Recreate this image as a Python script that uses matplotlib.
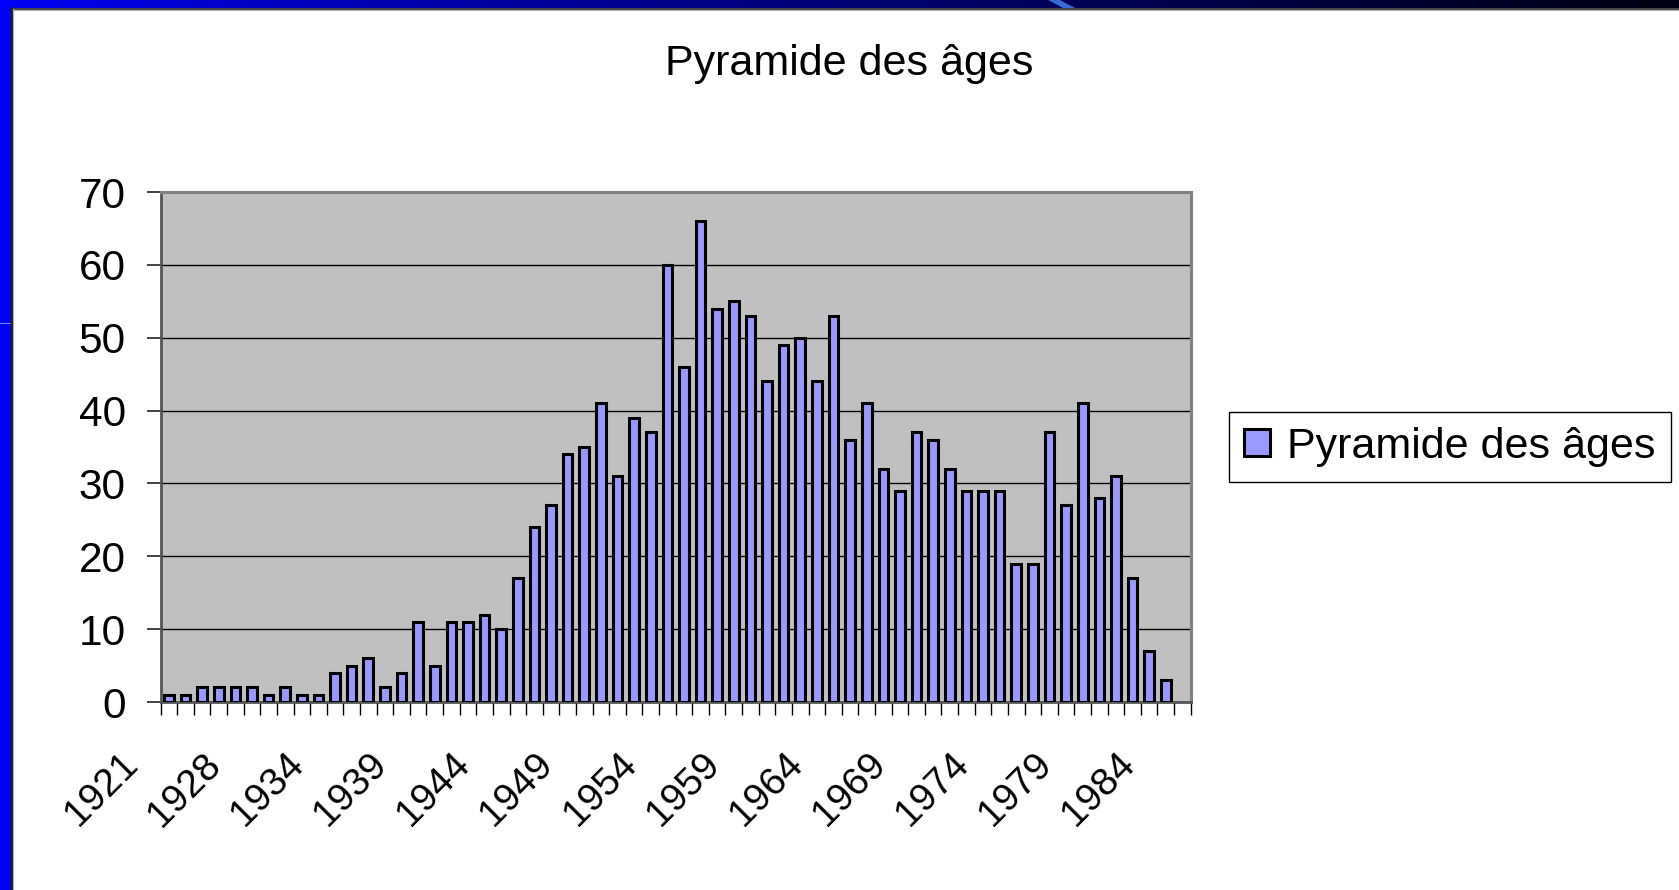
import numpy as np
import matplotlib
matplotlib.use("Agg")
import matplotlib.pyplot as plt
from matplotlib.patches import Rectangle, Polygon
from matplotlib.lines import Line2D
from matplotlib.transforms import ScaledTranslation

plt.rcParams['font.family'] = ['Liberation Sans', 'DejaVu Sans']

title = "Pyramide des âges"
series_name = "Pyramide des âges"

years = [1921, 1923, 1924, 1926, 1927, 1928, 1929, 1930, 1931, 1933,
         1934, 1935, 1936, 1937, 1938, 1939, 1940, 1941, 1942, 1943,
         1944, 1945, 1946, 1947, 1948, 1949, 1950, 1951, 1952, 1953,
         1954, 1955, 1956, 1957, 1958, 1959, 1960, 1961, 1962, 1963,
         1964, 1965, 1966, 1967, 1968, 1969, 1970, 1971, 1972, 1973,
         1974, 1975, 1976, 1977, 1978, 1979, 1980, 1981, 1982, 1983,
         1984, 1985]

counts = [1, 1, 2, 2, 2, 2, 1, 2, 1, 1,
          4, 5, 6, 2, 4, 11, 5, 11, 11, 12,
          10, 17, 24, 27, 34, 35, 41, 31, 39, 37,
          60, 46, 66, 54, 55, 53, 44, 49, 50, 44,
          53, 36, 41, 32, 29, 37, 36, 32, 29, 29,
          29, 19, 19, 37, 27, 41, 28, 31, 17, 7,
          3, np.nan]

yticks = [0, 10, 20, 30, 40, 50, 60, 70]
label_step = 5

W, H = 1679, 890
fig = plt.figure(figsize=(W / 100, H / 100), dpi=100)
fig.patch.set_facecolor('white')

# slide decoration: blue gradient top band and blue left strip
bg = fig.add_axes([0, 0, 1, 1], zorder=-10)
bg.set_xlim(0, W)
bg.set_ylim(H, 0)
bg.axis('off')
grad = np.linspace(0, 1, 400)
blue = 0.97 - 0.9 * grad ** 0.8
img = np.zeros((1, 400, 3))
img[0, :, 2] = blue
bg.imshow(img, extent=[0, W, 8, 0], aspect='auto')
bg.add_patch(Polygon([[1048, 0], [1060, 0], [1075, 8], [1063, 8]], closed=True,
                     color='#3a6ad8', lw=0))
bg.add_patch(Rectangle((0, 0), 11, H, color='#0000ff', lw=0))
bg.add_line(Line2D([0, 10], [323, 323], color='#6f7fff', lw=0.8))
bg.add_line(Line2D([11, W], [8.5, 8.5], color='#202020', lw=1.2))
bg.add_line(Line2D([11.5, 11.5], [8, H], color='#202020', lw=1.5))
bg.add_line(Line2D([12.5, W], [9.5, 9.5], color='#b0b0b0', lw=0.8))
bg.add_line(Line2D([12.6, 12.6], [9, H], color='#b0b0b0', lw=0.8))

left, right, top, bottom = 160.6, 1190.7, 192.0, 702.0
ax = fig.add_axes([left / W, 1 - bottom / H, (right - left) / W, (bottom - top) / H])
ax.set_facecolor('#c0c0c0')

x = np.arange(len(years))
ax.bar(x, counts, width=0.58, color='#9999ff', edgecolor='black',
       linewidth=2.2, label=series_name, zorder=3)

ax.set_xlim(-0.5, len(years) - 0.5)
ax.set_ylim(0, 70)
ax.set_yticks(yticks)
ax.set_yticklabels([str(v) for v in yticks])
ax.yaxis.grid(True, color='black', linewidth=1.0)
ax.set_axisbelow(True)

for s in ['top', 'right']:
    ax.spines[s].set_color('#808080')
    ax.spines[s].set_linewidth(2.2)
ax.spines['left'].set_color('#555555')
ax.spines['left'].set_linewidth(2)
ax.spines['bottom'].set_color('#555555')
ax.spines['bottom'].set_linewidth(2)

ax.tick_params(axis='y', direction='out', length=10, width=1.3, color='#333333',
               labelsize=30.5, pad=15)

ax.set_xticks(x[::label_step])
ax.set_xticklabels([str(years[i]) for i in x[::label_step]], rotation=45,
                   ha='right', va='top')
ax.set_xticks(np.arange(-0.5, len(years), 1.0), minor=True)
ax.tick_params(axis='x', which='major', length=0, labelsize=28, pad=32)
ax.tick_params(axis='x', which='minor', direction='out', length=9.5, width=1.0,
               color='black')
shift = ScaledTranslation(-24 / 100, 0, fig.dpi_scale_trans)
for lab in ax.get_xticklabels():
    lab.set_transform(lab.get_transform() + shift)

fig.text(849 / W, 1 - 75 / H, title, ha='center', va='baseline', fontsize=31)

leg = fig.legend(loc='center left', bbox_to_anchor=(1229 / W, 1 - 447 / H),
                 fontsize=31, frameon=True, fancybox=False, framealpha=1,
                 edgecolor='black', handlelength=0.6, handleheight=0.6,
                 handletextpad=0.4, borderpad=0.35, borderaxespad=0)
leg.get_frame().set_linewidth(1.0)

fig.savefig('out.png', dpi=100)
